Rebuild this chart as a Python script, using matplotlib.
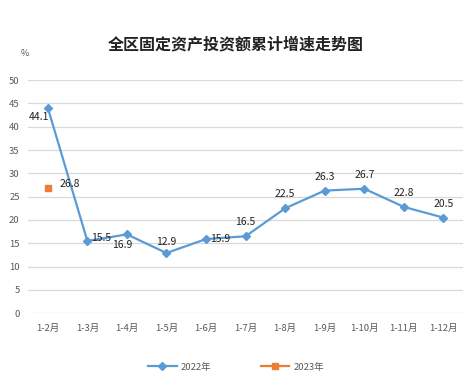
import matplotlib
matplotlib.use("Agg")
import matplotlib.pyplot as plt

plt.rcParams['font.family'] = ['Noto Sans CJK SC', 'DejaVu Sans']

categories = ["1-2月", "1-3月", "1-4月", "1-5月", "1-6月", "1-7月", "1-8月", "1-9月", "1-10月", "1-11月", "1-12月"]
values_2022 = [44.1, 15.5, 16.9, 12.9, 15.9, 16.5, 22.5, 26.3, 26.7, 22.8, 20.5]
values_2023 = [26.8]
yticks = [0, 5, 10, 15, 20, 25, 30, 35, 40, 45, 50]

# label placement offsets (points)
label_offsets_2022 = [(-6, -7), (10, 2), (-3, -8), (0, 8), (10, 0), (0, 10), (0, 10), (0, 10), (0, 10), (0, 10), (0, 10)]

blue = "#5B9BD5"
orange = "#ED7D31"

fig = plt.figure(figsize=(4.72, 3.80), dpi=100)
ax = fig.add_axes([0.0593, 0.176, 0.922, 0.613])

x = list(range(len(categories)))
ax.plot(x, values_2022, color=blue, lw=1.6, marker="D", ms=4, label="2022年", zorder=3)
ax.plot(x[:len(values_2023)], values_2023, color=orange, lw=1.6, marker="s", ms=4.5, label="2023年", linestyle="-", zorder=3)

for xi, v, off in zip(x, values_2022, label_offsets_2022):
    ax.annotate(f"{v}", (xi, v), xytext=off, textcoords="offset points",
                ha="center", va="center", fontsize=7.5, color="#222222")
for xi, v in zip(x, values_2023):
    ax.annotate(f"{v}", (xi, v), xytext=(16, 3), textcoords="offset points",
                ha="center", va="center", fontsize=7.5, color="#222222")

ax.set_xlim(-0.5, len(categories) - 0.5)
ax.set_ylim(0, 50)
ax.set_yticks(yticks)
ax.set_xticks(x)
ax.set_xticklabels(categories)
ax.tick_params(axis="both", length=0, labelsize=6.8, labelcolor="#595959")
ax.tick_params(axis="x", pad=8)
ax.tick_params(axis="y", pad=6)
ax.grid(axis="y", color="#d9d9d9", lw=0.9)
ax.set_axisbelow(True)
for s in ax.spines.values():
    s.set_visible(False)

fig.text(0.044, 0.86, "%", fontsize=6.5, color="#595959", ha="left", va="center")
fig.text(0.5, 0.882, "全区固定资产投资额累计增速走势图", fontsize=11.5, fontweight="bold",
         ha="center", va="center", color="#222222")

leg = fig.legend(loc="center", bbox_to_anchor=(0.5, 0.034), ncol=2, frameon=False,
                 fontsize=6.8, handlelength=3, handletextpad=0.4, columnspacing=5.3)
for t in leg.get_texts():
    t.set_color("#595959")

fig.savefig("out.png", dpi=100)
